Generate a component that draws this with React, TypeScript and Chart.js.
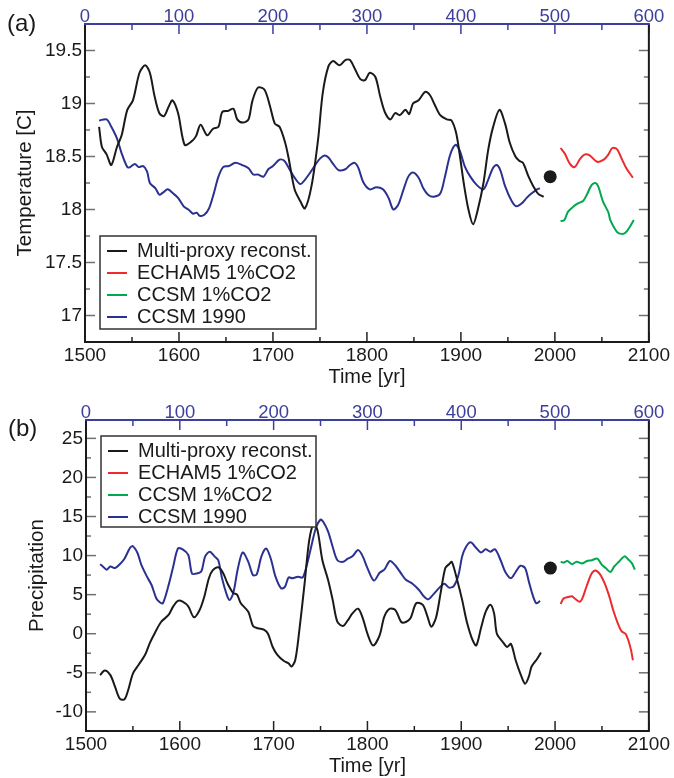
import React, { useEffect, useRef } from 'react';
import { Chart, registerables } from 'chart.js';

Chart.register(...registerables);

const FONT = '"Liberation Sans", Arial, Helvetica, sans-serif';
const INK = '#1a1a1a';
const RED = '#ee2b2b';
const GREEN = '#00a84f';
const BLUE = '#2b3190';
const AXIS_BLUE = '#3c3f9c';

// ---------- tick labels ----------
const yearTicks = [1500, 1600, 1700, 1800, 1900, 2000, 2100];
const yearMinorTicks = [1550, 1650, 1750, 1850, 1950, 2050];
const modelYearTicks = [0, 100, 200, 300, 400, 500, 600];
const modelYearMinorTicks = [50, 150, 250, 350, 450, 550];
const tempTicks = [17, 17.5, 18, 18.5, 19, 19.5];
const tempMinorTicks = [17.25, 17.75, 18.25, 18.75, 19.25];
const precipTicks = [-10, -5, 0, 5, 10, 15, 20, 25];
const precipMinorTicks = [-7.5, -2.5, 2.5, 7.5, 12.5, 17.5, 22.5];

const seriesLabels = ['Multi-proxy reconst.', 'ECHAM5 1%CO2', 'CCSM 1%CO2', 'CCSM 1990'];

// ---------- (a) temperature ----------
const proxyTempYears = [1515, 1518, 1523, 1528, 1534, 1539, 1545, 1551, 1558, 1564, 1569, 1574, 1579, 1584, 1589, 1593, 1599, 1606, 1613, 1618, 1623, 1630, 1636, 1642, 1646, 1652, 1658, 1662, 1668, 1674, 1678, 1684, 1691, 1697, 1702, 1707, 1713, 1717, 1723, 1729, 1734, 1741, 1748, 1753, 1759, 1764, 1771, 1777, 1782, 1787, 1793, 1798, 1803, 1809, 1814, 1819, 1825, 1830, 1835, 1841, 1845, 1849, 1855, 1862, 1867, 1872, 1878, 1885, 1890, 1895, 1899, 1903, 1908, 1913, 1918, 1924, 1929, 1934, 1941, 1947, 1952, 1958, 1962, 1966, 1972, 1977, 1982, 1988];
const proxyTemp = [18.78, 18.59, 18.52, 18.42, 18.59, 18.70, 18.94, 19.03, 19.29, 19.36, 19.29, 19.07, 18.91, 18.88, 18.97, 19.03, 18.91, 18.61, 18.64, 18.69, 18.80, 18.70, 18.76, 18.78, 18.92, 18.93, 18.95, 18.85, 18.82, 18.85, 19.02, 19.15, 19.13, 18.97, 18.81, 18.78, 18.63, 18.47, 18.19, 18.08, 18.01, 18.22, 18.66, 19.10, 19.35, 19.40, 19.36, 19.41, 19.41, 19.33, 19.23, 19.22, 19.29, 19.25, 19.07, 18.92, 18.85, 18.91, 18.89, 18.94, 18.90, 19.00, 19.03, 19.11, 19.08, 18.99, 18.89, 18.85, 18.84, 18.72, 18.50, 18.25, 18.00, 17.86, 18.00, 18.25, 18.56, 18.77, 18.94, 18.81, 18.63, 18.50, 18.46, 18.44, 18.31, 18.22, 18.15, 18.12];

const echamTempYears = [2006, 2011, 2016, 2021, 2027, 2032, 2037, 2045, 2052, 2057, 2061, 2066, 2071, 2076, 2083];
const echamTemp = [18.58, 18.52, 18.43, 18.40, 18.48, 18.52, 18.51, 18.45, 18.47, 18.52, 18.58, 18.57, 18.48, 18.39, 18.30];

const ccsmCo2TempYears = [2006, 2010, 2014, 2020, 2025, 2030, 2034, 2039, 2043, 2046, 2051, 2057, 2059, 2066, 2071, 2075, 2080, 2084];
const ccsmCo2Temp = [17.89, 17.90, 17.98, 18.03, 18.06, 18.08, 18.14, 18.23, 18.25, 18.22, 18.08, 17.97, 17.90, 17.79, 17.77, 17.78, 17.84, 17.90];

// CCSM 1990 control run, plotted against model year (top axis)
const ccsm1990TempModelYears = [15, 23, 28, 34, 39, 45, 48, 53, 57, 62, 66, 69, 75, 79, 83, 88, 94, 99, 105, 110, 115, 119, 122, 127, 132, 137, 142, 147, 153, 160, 167, 174, 179, 184, 190, 195, 200, 207, 212, 217, 223, 229, 234, 239, 245, 250, 255, 259, 264, 270, 277, 282, 287, 291, 296, 303, 310, 317, 323, 328, 333, 339, 344, 349, 355, 360, 365, 371, 378, 383, 388, 392, 395, 399, 404, 410, 417, 424, 429, 434, 438, 442, 447, 454, 459, 465, 470, 475, 481, 484];
const ccsm1990Temp = [18.84, 18.85, 18.78, 18.67, 18.53, 18.40, 18.40, 18.43, 18.40, 18.41, 18.36, 18.25, 18.20, 18.14, 18.16, 18.19, 18.15, 18.11, 18.03, 18.00, 17.96, 17.97, 17.94, 17.95, 18.01, 18.15, 18.31, 18.40, 18.41, 18.44, 18.42, 18.39, 18.33, 18.33, 18.31, 18.38, 18.41, 18.47, 18.46, 18.39, 18.30, 18.24, 18.28, 18.34, 18.42, 18.48, 18.51, 18.49, 18.43, 18.37, 18.38, 18.42, 18.44, 18.39, 18.26, 18.19, 18.21, 18.19, 18.11, 18.00, 18.04, 18.19, 18.31, 18.35, 18.30, 18.20, 18.14, 18.12, 18.15, 18.31, 18.50, 18.59, 18.61, 18.55, 18.41, 18.31, 18.23, 18.19, 18.28, 18.39, 18.42, 18.37, 18.22, 18.08, 18.03, 18.06, 18.11, 18.15, 18.19, 18.20];

const observedTempYear = [1995];
const observedTemp = [18.31];

// ---------- (b) precipitation ----------
const proxyPrecipYears = [1515, 1520, 1526, 1531, 1536, 1541, 1545, 1550, 1556, 1563, 1568, 1573, 1580, 1588, 1593, 1598, 1603, 1609, 1615, 1621, 1626, 1631, 1635, 1641, 1646, 1651, 1657, 1661, 1665, 1673, 1678, 1683, 1690, 1694, 1699, 1704, 1711, 1716, 1719, 1723, 1727, 1733, 1738, 1743, 1747, 1752, 1758, 1763, 1768, 1774, 1779, 1784, 1790, 1795, 1800, 1806, 1813, 1818, 1824, 1830, 1836, 1841, 1846, 1852, 1859, 1864, 1868, 1873, 1878, 1883, 1887, 1890, 1896, 1901, 1906, 1912, 1916, 1921, 1926, 1931, 1935, 1938, 1944, 1949, 1953, 1958, 1963, 1968, 1972, 1975, 1981, 1985];
const proxyPrecip = [-5.3, -4.7, -5.3, -6.8, -8.3, -8.4, -7.2, -5.1, -4.0, -2.7, -1.2, 0.0, 1.5, 2.4, 3.5, 4.2, 4.1, 3.5, 2.1, 3.0, 4.7, 7.1, 8.1, 8.5, 7.8, 6.4, 5.2, 5.0, 3.9, 2.8, 1.0, 0.7, 0.5, 0.0, -1.7, -2.7, -3.5, -3.8, -4.2, -3.4, 0.0, 6.4, 12.0, 14.1, 13.1, 9.4, 6.9, 4.3, 1.5, 1.0, 1.7, 2.6, 3.2, 2.0, 0.0, -1.5, -0.2, 2.2, 3.2, 3.0, 1.5, 1.5, 2.0, 3.9, 3.7, 2.2, 0.9, 2.0, 5.2, 8.4, 8.9, 9.2, 6.7, 4.3, 1.5, -0.8, -1.5, 0.7, 2.8, 3.7, 2.6, 0.0, -1.0, -1.7, -1.3, -3.4, -5.1, -6.4, -5.5, -4.2, -3.2, -2.4];

const echamPrecipYears = [2006, 2009, 2014, 2018, 2021, 2026, 2029, 2034, 2039, 2043, 2048, 2053, 2058, 2062, 2067, 2071, 2075, 2078, 2081, 2083];
const echamPrecip = [3.8, 4.5, 4.7, 4.8, 4.5, 4.1, 4.5, 6.2, 7.7, 8.1, 7.6, 6.4, 4.7, 3.0, 1.3, 0.3, 0.0, -0.8, -2.1, -3.4];

const ccsmCo2PrecipYears = [2006, 2009, 2013, 2018, 2023, 2029, 2034, 2039, 2045, 2050, 2054, 2059, 2063, 2068, 2074, 2078, 2082, 2085];
const ccsmCo2Precip = [9.2, 9.1, 9.3, 8.9, 9.2, 9.0, 9.3, 9.4, 9.6, 8.8, 8.4, 7.9, 8.6, 9.2, 9.9, 9.5, 9.0, 8.2];

const ccsm1990PrecipModelYears = [15, 18, 22, 26, 31, 36, 41, 47, 50, 55, 59, 65, 70, 75, 79, 82, 88, 93, 98, 103, 109, 113, 118, 123, 127, 132, 137, 141, 145, 150, 153, 157, 162, 167, 173, 178, 182, 187, 192, 197, 202, 208, 212, 216, 220, 226, 231, 235, 240, 245, 250, 253, 258, 263, 268, 274, 279, 284, 290, 295, 300, 307, 313, 318, 324, 330, 336, 341, 348, 355, 360, 365, 370, 376, 382, 387, 392, 397, 401, 405, 410, 415, 421, 426, 431, 436, 442, 447, 453, 458, 463, 468, 472, 476, 480, 484];
const ccsm1990Precip = [8.9, 8.6, 8.2, 8.6, 8.4, 8.9, 9.6, 11.0, 11.2, 10.3, 8.8, 7.3, 6.2, 4.5, 4.0, 3.9, 6.2, 8.6, 10.9, 10.8, 10.1, 7.7, 7.7, 8.0, 9.9, 10.5, 9.9, 9.4, 7.1, 5.0, 4.3, 5.2, 8.4, 10.4, 9.2, 7.5, 7.6, 9.9, 10.9, 9.6, 7.3, 5.8, 6.0, 7.2, 7.1, 7.3, 7.2, 8.6, 11.1, 13.5, 14.6, 14.3, 13.1, 11.1, 9.4, 9.2, 9.6, 9.9, 10.7, 9.9, 8.4, 6.8, 7.8, 8.2, 9.3, 8.7, 7.7, 6.9, 6.4, 5.6, 4.8, 4.4, 5.0, 5.8, 6.4, 5.9, 6.1, 7.5, 9.9, 11.1, 11.7, 11.1, 10.4, 10.8, 10.5, 10.8, 9.4, 7.9, 7.1, 7.9, 8.7, 8.4, 6.7, 5.0, 3.9, 4.2];

const observedPrecipYear = [1995];
const observedPrecip = [8.4];

// ---------- helpers ----------
const pts = (xs: number[], ys: number[]) => xs.map((x, i) => ({ x, y: ys[i] }));

const lineDs = (label: string, color: string, data: any[], xAxisID = 'x') => ({
  type: 'line',
  label,
  data,
  xAxisID,
  yAxisID: 'y',
  borderColor: color,
  backgroundColor: color,
  borderWidth: 2,
  pointRadius: 0,
  tension: 0.3,
  fill: false,
});

const decorPlugin = {
  id: 'decor',
  afterDatasetsDraw(chart: any, _args: any, o: any) {
    const { ctx, chartArea: a, scales } = chart;
    const sx = scales.x, sx2 = scales.x2, sy = scales.y;
    ctx.save();
    const seg = (x1: number, y1: number, x2: number, y2: number) => {
      ctx.beginPath(); ctx.moveTo(x1, y1); ctx.lineTo(x2, y2); ctx.stroke();
    };
    ctx.lineWidth = 1.5;
    ctx.strokeStyle = '#707070';
    const yList: [number[], number][] = [[o.yMajor, 10], [o.yMinor, 5]];
    yList.forEach(([vals, len]) => vals.forEach((v) => {
      const p = sy.getPixelForValue(v);
      seg(a.left, p, a.left + len, p);
      seg(a.right, p, a.right - len, p);
    }));
    ctx.strokeStyle = '#222';
    const xList: [number[], number][] = [[yearTicks, 10], [yearMinorTicks, 5]];
    xList.forEach(([vals, len]) => vals.forEach((v) => {
      const p = sx.getPixelForValue(v);
      seg(p, a.bottom, p, a.bottom - len);
    }));
    ctx.strokeStyle = AXIS_BLUE;
    const tList: [number[], number][] = [[modelYearTicks, 10], [modelYearMinorTicks, 6]];
    tList.forEach(([vals, len]) => vals.forEach((v) => {
      const p = sx2.getPixelForValue(v);
      seg(p, a.top, p, a.top + len);
    }));
    // frame
    ctx.lineWidth = 2;
    ctx.strokeStyle = INK;
    ctx.beginPath();
    ctx.moveTo(a.left, a.top);
    ctx.lineTo(a.left, a.bottom);
    ctx.lineTo(a.right, a.bottom);
    ctx.lineTo(a.right, a.top);
    ctx.stroke();
    ctx.strokeStyle = AXIS_BLUE;
    seg(a.left - 1, a.top, a.right + 1, a.top);
    // legend
    const lg = o.legend;
    const bx = a.left + lg.dx, by = a.top + lg.dy;
    ctx.fillStyle = '#fff';
    ctx.fillRect(bx, by, lg.w, lg.h);
    ctx.lineWidth = 1.5;
    ctx.strokeStyle = '#333';
    ctx.strokeRect(bx, by, lg.w, lg.h);
    ctx.font = `20px ${FONT}`;
    ctx.textBaseline = 'middle';
    ctx.textAlign = 'left';
    chart.data.datasets.filter((d: any) => d.type === 'line').forEach((d: any, i: number) => {
      const yy = by + lg.first + i * lg.step;
      ctx.strokeStyle = d.borderColor;
      ctx.lineWidth = 2;
      seg(bx + 7, yy, bx + 27, yy);
      ctx.fillStyle = INK;
      ctx.fillText(d.label, bx + 37, yy);
    });
    // panel label
    ctx.font = `24px ${FONT}`;
    ctx.fillStyle = INK;
    ctx.fillText(o.label, o.labelX, o.labelY);
    ctx.restore();
  },
};

function makeConfig(p: any) {
  const tickFont = { family: FONT, size: 19, lineHeight: 1 };
  return {
    type: 'line',
    data: { datasets: p.datasets },
    plugins: [decorPlugin],
    options: {
      animation: false,
      responsive: false,
      maintainAspectRatio: false,
      layout: { padding: { left: 0, top: 0, right: p.padRight, bottom: 0 } },
      plugins: {
        legend: { display: false },
        tooltip: { enabled: false },
        decor: p.decor,
      },
      scales: {
        x: {
          type: 'linear', position: 'bottom', min: 1500, max: 2100,
          grid: { display: false, drawTicks: false }, border: { display: false },
          afterBuildTicks: (s: any) => { s.ticks = yearTicks.map((v) => ({ value: v })); },
          afterFit: (s: any) => { s.height = p.bottomH; },
          ticks: { font: tickFont, color: INK, padding: 4, maxRotation: 0, callback: (v: any) => String(v) },
          title: { display: true, text: 'Time [yr]', color: INK, font: { family: FONT, size: 20 }, padding: { top: 0, bottom: 0 } },
        },
        x2: {
          type: 'linear', position: 'top', min: 0, max: 600,
          grid: { display: false, drawTicks: false }, border: { display: false },
          afterBuildTicks: (s: any) => { s.ticks = modelYearTicks.map((v) => ({ value: v })); },
          afterFit: (s: any) => { s.height = p.topH; },
          ticks: { font: { family: FONT, size: 18.5, lineHeight: 1 }, color: AXIS_BLUE, padding: -2.5, maxRotation: 0, callback: (v: any) => String(v) },
        },
        y: {
          type: 'linear', position: 'left', min: p.yMin, max: p.yMax,
          grid: { display: false, drawTicks: false }, border: { display: false },
          afterBuildTicks: (s: any) => { s.ticks = p.yTicks.map((v: number) => ({ value: v })); },
          afterFit: (s: any) => { s.width = p.leftW; },
          ticks: { font: tickFont, color: INK, padding: 3, callback: (v: any) => String(v) },
          title: { display: true, text: p.yTitle, color: INK, font: { family: FONT, size: 20.5 }, padding: { top: p.yTitlePad, bottom: 0 } },
        },
      },
    },
  };
}

function Panel({ config, top }: { config: any; top: number }) {
  const ref = useRef<HTMLCanvasElement | null>(null);
  useEffect(() => {
    if (!ref.current) return;
    const chart = new Chart(ref.current, config);
    return () => chart.destroy();
  }, [config]);
  return (
    <canvas
      ref={ref}
      width={674}
      height={389}
      style={{ position: 'absolute', left: 0, top, width: 674, height: 389 }}
    />
  );
}

const tempConfig = makeConfig({
  datasets: [
    lineDs(seriesLabels[0], INK, pts(proxyTempYears, proxyTemp)),
    lineDs(seriesLabels[1], RED, pts(echamTempYears, echamTemp)),
    lineDs(seriesLabels[2], GREEN, pts(ccsmCo2TempYears, ccsmCo2Temp)),
    lineDs(seriesLabels[3], BLUE, pts(ccsm1990TempModelYears, ccsm1990Temp), 'x2'),
    { type: 'scatter', label: 'observed', data: pts(observedTempYear, observedTemp), xAxisID: 'x', yAxisID: 'y', pointRadius: 6.5, backgroundColor: INK, borderColor: INK, borderWidth: 0 },
  ],
  padRight: 25, bottomH: 47, topH: 24, leftW: 85,
  yMin: 16.75, yMax: 19.75, yTicks: tempTicks,
  yTitle: 'Temperature [C]', yTitlePad: 13,
  decor: {
    yMajor: tempTicks, yMinor: tempMinorTicks, label: '(a)', labelX: 7, labelY: 24,
    legend: { dx: 15, dy: 212, w: 216, h: 93, first: 15, step: 22 },
  },
});

const precipConfig = makeConfig({
  datasets: [
    lineDs(seriesLabels[0], INK, pts(proxyPrecipYears, proxyPrecip)),
    lineDs(seriesLabels[1], RED, pts(echamPrecipYears, echamPrecip)),
    lineDs(seriesLabels[2], GREEN, pts(ccsmCo2PrecipYears, ccsmCo2Precip)),
    lineDs(seriesLabels[3], BLUE, pts(ccsm1990PrecipModelYears, ccsm1990Precip), 'x2'),
    { type: 'scatter', label: 'observed', data: pts(observedPrecipYear, observedPrecip), xAxisID: 'x', yAxisID: 'y', pointRadius: 6.5, backgroundColor: INK, borderColor: INK, borderWidth: 0 },
  ],
  padRight: 23, bottomH: 47, topH: 31, leftW: 86,
  yMin: -12.45, yMax: 27.35, yTicks: precipTicks,
  yTitle: 'Precipitation', yTitlePad: 25,
  decor: {
    yMajor: precipTicks, yMinor: precipMinorTicks, label: '(b)', labelX: 8, labelY: 40,
    legend: { dx: 15, dy: 16, w: 215, h: 91, first: 15, step: 22 },
  },
});

export default function App() {
  return (
    <div style={{ position: 'fixed', left: 0, top: 0, width: 674, height: 778, background: '#fff' }}>
      <Panel config={tempConfig} top={0} />
      <Panel config={precipConfig} top={389} />
    </div>
  );
}
